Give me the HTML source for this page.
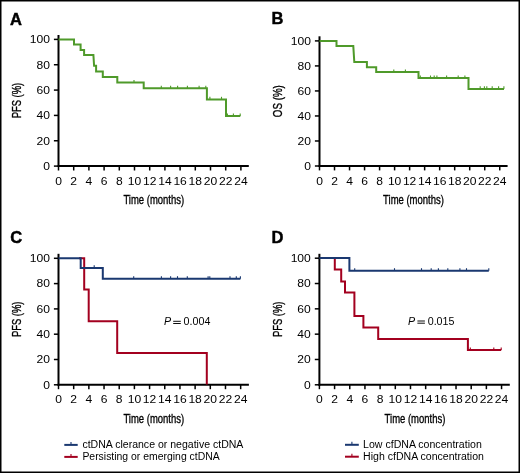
<!DOCTYPE html>
<html><head><meta charset="utf-8"><style>
html,body{margin:0;padding:0;background:#fff;}
svg{display:block;will-change:transform;}
text{font-family:"Liberation Sans", sans-serif;fill:#000;}
.tl{font-size:11px;}
.al{font-size:13px;stroke:#000;stroke-width:0.35px;}
.pl{font-size:16.5px;font-weight:bold;stroke:#000;stroke-width:0.45px;}
.pv{font-size:10.7px;}
.lg{font-size:10.0px;}
</style></head><body>
<svg width="520" height="473" viewBox="0 0 520 473">
<rect x="0.75" y="0.75" width="518.5" height="471.5" fill="#fff" stroke="#000" stroke-width="1.5"/>
<text x="10.0" y="24.6" class="pl">A</text>
<text x="271.5" y="24.3" class="pl">B</text>
<text x="10.2" y="243.3" class="pl">C</text>
<text x="271.5" y="243.2" class="pl">D</text>
<line x1="58.5" y1="35" x2="58.5" y2="167" stroke="#000" stroke-width="2.0"/>
<line x1="57.6" y1="166.1" x2="248.8" y2="166.1" stroke="#000" stroke-width="2.0"/>
<line x1="53.9" y1="166.1" x2="58.5" y2="166.1" stroke="#000" stroke-width="1.5"/>
<text transform="translate(49.9 169.95) scale(1.1 1)" text-anchor="end" class="tl">0</text>
<line x1="53.9" y1="140.76" x2="58.5" y2="140.76" stroke="#000" stroke-width="1.5"/>
<text transform="translate(49.9 144.61) scale(1.1 1)" text-anchor="end" class="tl">20</text>
<line x1="53.9" y1="115.42" x2="58.5" y2="115.42" stroke="#000" stroke-width="1.5"/>
<text transform="translate(49.9 119.27) scale(1.1 1)" text-anchor="end" class="tl">40</text>
<line x1="53.9" y1="90.08" x2="58.5" y2="90.08" stroke="#000" stroke-width="1.5"/>
<text transform="translate(49.9 93.93) scale(1.1 1)" text-anchor="end" class="tl">60</text>
<line x1="53.9" y1="64.74" x2="58.5" y2="64.74" stroke="#000" stroke-width="1.5"/>
<text transform="translate(49.9 68.59) scale(1.1 1)" text-anchor="end" class="tl">80</text>
<line x1="53.9" y1="39.4" x2="58.5" y2="39.4" stroke="#000" stroke-width="1.5"/>
<text transform="translate(49.9 43.25) scale(1.1 1)" text-anchor="end" class="tl">100</text>
<line x1="58.5" y1="166.1" x2="58.5" y2="170.5" stroke="#000" stroke-width="1.5"/>
<text transform="translate(58.5 184.6) scale(1.1 1)" text-anchor="middle" class="tl">0</text>
<line x1="73.7" y1="166.1" x2="73.7" y2="170.5" stroke="#000" stroke-width="1.5"/>
<text transform="translate(73.7 184.6) scale(1.1 1)" text-anchor="middle" class="tl">2</text>
<line x1="88.9" y1="166.1" x2="88.9" y2="170.5" stroke="#000" stroke-width="1.5"/>
<text transform="translate(88.9 184.6) scale(1.1 1)" text-anchor="middle" class="tl">4</text>
<line x1="104.1" y1="166.1" x2="104.1" y2="170.5" stroke="#000" stroke-width="1.5"/>
<text transform="translate(104.1 184.6) scale(1.1 1)" text-anchor="middle" class="tl">6</text>
<line x1="119.3" y1="166.1" x2="119.3" y2="170.5" stroke="#000" stroke-width="1.5"/>
<text transform="translate(119.3 184.6) scale(1.1 1)" text-anchor="middle" class="tl">8</text>
<line x1="134.5" y1="166.1" x2="134.5" y2="170.5" stroke="#000" stroke-width="1.5"/>
<text transform="translate(134.5 184.6) scale(1.1 1)" text-anchor="middle" class="tl">10</text>
<line x1="149.7" y1="166.1" x2="149.7" y2="170.5" stroke="#000" stroke-width="1.5"/>
<text transform="translate(149.7 184.6) scale(1.1 1)" text-anchor="middle" class="tl">12</text>
<line x1="164.9" y1="166.1" x2="164.9" y2="170.5" stroke="#000" stroke-width="1.5"/>
<text transform="translate(164.9 184.6) scale(1.1 1)" text-anchor="middle" class="tl">14</text>
<line x1="180.1" y1="166.1" x2="180.1" y2="170.5" stroke="#000" stroke-width="1.5"/>
<text transform="translate(180.1 184.6) scale(1.1 1)" text-anchor="middle" class="tl">16</text>
<line x1="195.3" y1="166.1" x2="195.3" y2="170.5" stroke="#000" stroke-width="1.5"/>
<text transform="translate(195.3 184.6) scale(1.1 1)" text-anchor="middle" class="tl">18</text>
<line x1="210.5" y1="166.1" x2="210.5" y2="170.5" stroke="#000" stroke-width="1.5"/>
<text transform="translate(210.5 184.6) scale(1.1 1)" text-anchor="middle" class="tl">20</text>
<line x1="225.7" y1="166.1" x2="225.7" y2="170.5" stroke="#000" stroke-width="1.5"/>
<text transform="translate(225.7 184.6) scale(1.1 1)" text-anchor="middle" class="tl">22</text>
<line x1="240.9" y1="166.1" x2="240.9" y2="170.5" stroke="#000" stroke-width="1.5"/>
<text transform="translate(240.9 184.6) scale(1.1 1)" text-anchor="middle" class="tl">24</text>
<text x="153.8" y="203.9" text-anchor="middle" class="al" textLength="60.8" lengthAdjust="spacingAndGlyphs">Time (months)</text>
<text transform="translate(21.3 100.55) rotate(-90)" x="0" y="0" text-anchor="middle" class="al" textLength="35.5" lengthAdjust="spacingAndGlyphs">PFS (%)</text>
<path d="M58.5 39.5 H74.0 V44.5 H80.6 V50.0 H84.1 V55.0 H93.4 L94.1 65.7 H96.1 V71.6 H102.8 V76.9 H117.3 V82.5 H143.7 V88.3 H206.9 V99.4 H226.0 V116.0 H240.3" fill="none" stroke="#4f9a2a" stroke-width="2.0" stroke-linejoin="miter"/>
<line x1="134" y1="82.5" x2="134" y2="79.9" stroke="#4f9a2a" stroke-width="1.1"/>
<line x1="161.3" y1="88.3" x2="161.3" y2="85.7" stroke="#4f9a2a" stroke-width="1.1"/>
<line x1="170.6" y1="88.3" x2="170.6" y2="85.7" stroke="#4f9a2a" stroke-width="1.1"/>
<line x1="177.6" y1="88.3" x2="177.6" y2="85.7" stroke="#4f9a2a" stroke-width="1.1"/>
<line x1="187.4" y1="88.3" x2="187.4" y2="85.7" stroke="#4f9a2a" stroke-width="1.1"/>
<line x1="199.1" y1="88.3" x2="199.1" y2="85.7" stroke="#4f9a2a" stroke-width="1.1"/>
<line x1="205.8" y1="88.3" x2="205.8" y2="85.7" stroke="#4f9a2a" stroke-width="1.1"/>
<line x1="209.9" y1="99.4" x2="209.9" y2="96.8" stroke="#4f9a2a" stroke-width="1.1"/>
<line x1="221.5" y1="99.4" x2="221.5" y2="96.8" stroke="#4f9a2a" stroke-width="1.1"/>
<line x1="227.4" y1="116" x2="227.4" y2="113.4" stroke="#4f9a2a" stroke-width="1.1"/>
<line x1="233.4" y1="116" x2="233.4" y2="113.4" stroke="#4f9a2a" stroke-width="1.1"/>
<line x1="240.2" y1="116" x2="240.2" y2="113.4" stroke="#4f9a2a" stroke-width="1.1"/>
<line x1="319.5" y1="36.3" x2="319.5" y2="166.9" stroke="#000" stroke-width="2.0"/>
<line x1="318.6" y1="166" x2="507.6" y2="166" stroke="#000" stroke-width="2.0"/>
<line x1="314.9" y1="166" x2="319.5" y2="166" stroke="#000" stroke-width="1.5"/>
<text transform="translate(310.9 169.85) scale(1.1 1)" text-anchor="end" class="tl">0</text>
<line x1="314.9" y1="140.98" x2="319.5" y2="140.98" stroke="#000" stroke-width="1.5"/>
<text transform="translate(310.9 144.83) scale(1.1 1)" text-anchor="end" class="tl">20</text>
<line x1="314.9" y1="115.96" x2="319.5" y2="115.96" stroke="#000" stroke-width="1.5"/>
<text transform="translate(310.9 119.81) scale(1.1 1)" text-anchor="end" class="tl">40</text>
<line x1="314.9" y1="90.94" x2="319.5" y2="90.94" stroke="#000" stroke-width="1.5"/>
<text transform="translate(310.9 94.79) scale(1.1 1)" text-anchor="end" class="tl">60</text>
<line x1="314.9" y1="65.92" x2="319.5" y2="65.92" stroke="#000" stroke-width="1.5"/>
<text transform="translate(310.9 69.77) scale(1.1 1)" text-anchor="end" class="tl">80</text>
<line x1="314.9" y1="40.9" x2="319.5" y2="40.9" stroke="#000" stroke-width="1.5"/>
<text transform="translate(310.9 44.75) scale(1.1 1)" text-anchor="end" class="tl">100</text>
<line x1="319.5" y1="166" x2="319.5" y2="170.4" stroke="#000" stroke-width="1.5"/>
<text transform="translate(319.5 184.5) scale(1.1 1)" text-anchor="middle" class="tl">0</text>
<line x1="334.52" y1="166" x2="334.52" y2="170.4" stroke="#000" stroke-width="1.5"/>
<text transform="translate(334.52 184.5) scale(1.1 1)" text-anchor="middle" class="tl">2</text>
<line x1="349.54" y1="166" x2="349.54" y2="170.4" stroke="#000" stroke-width="1.5"/>
<text transform="translate(349.54 184.5) scale(1.1 1)" text-anchor="middle" class="tl">4</text>
<line x1="364.56" y1="166" x2="364.56" y2="170.4" stroke="#000" stroke-width="1.5"/>
<text transform="translate(364.56 184.5) scale(1.1 1)" text-anchor="middle" class="tl">6</text>
<line x1="379.58" y1="166" x2="379.58" y2="170.4" stroke="#000" stroke-width="1.5"/>
<text transform="translate(379.58 184.5) scale(1.1 1)" text-anchor="middle" class="tl">8</text>
<line x1="394.6" y1="166" x2="394.6" y2="170.4" stroke="#000" stroke-width="1.5"/>
<text transform="translate(394.6 184.5) scale(1.1 1)" text-anchor="middle" class="tl">10</text>
<line x1="409.62" y1="166" x2="409.62" y2="170.4" stroke="#000" stroke-width="1.5"/>
<text transform="translate(409.62 184.5) scale(1.1 1)" text-anchor="middle" class="tl">12</text>
<line x1="424.64" y1="166" x2="424.64" y2="170.4" stroke="#000" stroke-width="1.5"/>
<text transform="translate(424.64 184.5) scale(1.1 1)" text-anchor="middle" class="tl">14</text>
<line x1="439.66" y1="166" x2="439.66" y2="170.4" stroke="#000" stroke-width="1.5"/>
<text transform="translate(439.66 184.5) scale(1.1 1)" text-anchor="middle" class="tl">16</text>
<line x1="454.68" y1="166" x2="454.68" y2="170.4" stroke="#000" stroke-width="1.5"/>
<text transform="translate(454.68 184.5) scale(1.1 1)" text-anchor="middle" class="tl">18</text>
<line x1="469.7" y1="166" x2="469.7" y2="170.4" stroke="#000" stroke-width="1.5"/>
<text transform="translate(469.7 184.5) scale(1.1 1)" text-anchor="middle" class="tl">20</text>
<line x1="484.72" y1="166" x2="484.72" y2="170.4" stroke="#000" stroke-width="1.5"/>
<text transform="translate(484.72 184.5) scale(1.1 1)" text-anchor="middle" class="tl">22</text>
<line x1="499.74" y1="166" x2="499.74" y2="170.4" stroke="#000" stroke-width="1.5"/>
<text transform="translate(499.74 184.5) scale(1.1 1)" text-anchor="middle" class="tl">24</text>
<text x="413.5" y="203.8" text-anchor="middle" class="al" textLength="60.8" lengthAdjust="spacingAndGlyphs">Time (months)</text>
<text transform="translate(282.3 101.15) rotate(-90)" x="0" y="0" text-anchor="middle" class="al" textLength="32.0" lengthAdjust="spacingAndGlyphs">OS (%)</text>
<path d="M319.5 41.0 H336.5 V46.1 H353.3 L354.3 62.0 H366.9 V67.3 H376.2 V72.1 H418.5 V78.1 H468.5 V88.9 H504.0" fill="none" stroke="#4f9a2a" stroke-width="2.0" stroke-linejoin="miter"/>
<line x1="393.8" y1="72.1" x2="393.8" y2="69.5" stroke="#4f9a2a" stroke-width="1.1"/>
<line x1="405.4" y1="72.1" x2="405.4" y2="69.5" stroke="#4f9a2a" stroke-width="1.1"/>
<line x1="420.3" y1="78.1" x2="420.3" y2="75.5" stroke="#4f9a2a" stroke-width="1.1"/>
<line x1="430.5" y1="78.1" x2="430.5" y2="75.5" stroke="#4f9a2a" stroke-width="1.1"/>
<line x1="434.2" y1="78.1" x2="434.2" y2="75.5" stroke="#4f9a2a" stroke-width="1.1"/>
<line x1="436.9" y1="78.1" x2="436.9" y2="75.5" stroke="#4f9a2a" stroke-width="1.1"/>
<line x1="446.6" y1="78.1" x2="446.6" y2="75.5" stroke="#4f9a2a" stroke-width="1.1"/>
<line x1="458.2" y1="78.1" x2="458.2" y2="75.5" stroke="#4f9a2a" stroke-width="1.1"/>
<line x1="464.9" y1="78.1" x2="464.9" y2="75.5" stroke="#4f9a2a" stroke-width="1.1"/>
<line x1="480.2" y1="88.9" x2="480.2" y2="86.3" stroke="#4f9a2a" stroke-width="1.1"/>
<line x1="484.4" y1="88.9" x2="484.4" y2="86.3" stroke="#4f9a2a" stroke-width="1.1"/>
<line x1="486.8" y1="88.9" x2="486.8" y2="86.3" stroke="#4f9a2a" stroke-width="1.1"/>
<line x1="492.2" y1="88.9" x2="492.2" y2="86.3" stroke="#4f9a2a" stroke-width="1.1"/>
<line x1="498.6" y1="88.9" x2="498.6" y2="86.3" stroke="#4f9a2a" stroke-width="1.1"/>
<line x1="503.9" y1="88.9" x2="503.9" y2="86.3" stroke="#4f9a2a" stroke-width="1.1"/>
<line x1="58.5" y1="253.8" x2="58.5" y2="385.7" stroke="#000" stroke-width="2.0"/>
<line x1="57.6" y1="384.8" x2="248.9" y2="384.8" stroke="#000" stroke-width="2.0"/>
<line x1="53.9" y1="384.8" x2="58.5" y2="384.8" stroke="#000" stroke-width="1.5"/>
<text transform="translate(49.9 388.65) scale(1.1 1)" text-anchor="end" class="tl">0</text>
<line x1="53.9" y1="359.5" x2="58.5" y2="359.5" stroke="#000" stroke-width="1.5"/>
<text transform="translate(49.9 363.35) scale(1.1 1)" text-anchor="end" class="tl">20</text>
<line x1="53.9" y1="334.2" x2="58.5" y2="334.2" stroke="#000" stroke-width="1.5"/>
<text transform="translate(49.9 338.05) scale(1.1 1)" text-anchor="end" class="tl">40</text>
<line x1="53.9" y1="308.9" x2="58.5" y2="308.9" stroke="#000" stroke-width="1.5"/>
<text transform="translate(49.9 312.75) scale(1.1 1)" text-anchor="end" class="tl">60</text>
<line x1="53.9" y1="283.6" x2="58.5" y2="283.6" stroke="#000" stroke-width="1.5"/>
<text transform="translate(49.9 287.45) scale(1.1 1)" text-anchor="end" class="tl">80</text>
<line x1="53.9" y1="258.3" x2="58.5" y2="258.3" stroke="#000" stroke-width="1.5"/>
<text transform="translate(49.9 262.15) scale(1.1 1)" text-anchor="end" class="tl">100</text>
<line x1="58.5" y1="384.8" x2="58.5" y2="389.2" stroke="#000" stroke-width="1.5"/>
<text transform="translate(58.5 403.3) scale(1.1 1)" text-anchor="middle" class="tl">0</text>
<line x1="73.68" y1="384.8" x2="73.68" y2="389.2" stroke="#000" stroke-width="1.5"/>
<text transform="translate(73.68 403.3) scale(1.1 1)" text-anchor="middle" class="tl">2</text>
<line x1="88.86" y1="384.8" x2="88.86" y2="389.2" stroke="#000" stroke-width="1.5"/>
<text transform="translate(88.86 403.3) scale(1.1 1)" text-anchor="middle" class="tl">4</text>
<line x1="104.04" y1="384.8" x2="104.04" y2="389.2" stroke="#000" stroke-width="1.5"/>
<text transform="translate(104.04 403.3) scale(1.1 1)" text-anchor="middle" class="tl">6</text>
<line x1="119.22" y1="384.8" x2="119.22" y2="389.2" stroke="#000" stroke-width="1.5"/>
<text transform="translate(119.22 403.3) scale(1.1 1)" text-anchor="middle" class="tl">8</text>
<line x1="134.4" y1="384.8" x2="134.4" y2="389.2" stroke="#000" stroke-width="1.5"/>
<text transform="translate(134.4 403.3) scale(1.1 1)" text-anchor="middle" class="tl">10</text>
<line x1="149.58" y1="384.8" x2="149.58" y2="389.2" stroke="#000" stroke-width="1.5"/>
<text transform="translate(149.58 403.3) scale(1.1 1)" text-anchor="middle" class="tl">12</text>
<line x1="164.76" y1="384.8" x2="164.76" y2="389.2" stroke="#000" stroke-width="1.5"/>
<text transform="translate(164.76 403.3) scale(1.1 1)" text-anchor="middle" class="tl">14</text>
<line x1="179.94" y1="384.8" x2="179.94" y2="389.2" stroke="#000" stroke-width="1.5"/>
<text transform="translate(179.94 403.3) scale(1.1 1)" text-anchor="middle" class="tl">16</text>
<line x1="195.12" y1="384.8" x2="195.12" y2="389.2" stroke="#000" stroke-width="1.5"/>
<text transform="translate(195.12 403.3) scale(1.1 1)" text-anchor="middle" class="tl">18</text>
<line x1="210.3" y1="384.8" x2="210.3" y2="389.2" stroke="#000" stroke-width="1.5"/>
<text transform="translate(210.3 403.3) scale(1.1 1)" text-anchor="middle" class="tl">20</text>
<line x1="225.48" y1="384.8" x2="225.48" y2="389.2" stroke="#000" stroke-width="1.5"/>
<text transform="translate(225.48 403.3) scale(1.1 1)" text-anchor="middle" class="tl">22</text>
<line x1="240.66" y1="384.8" x2="240.66" y2="389.2" stroke="#000" stroke-width="1.5"/>
<text transform="translate(240.66 403.3) scale(1.1 1)" text-anchor="middle" class="tl">24</text>
<text x="153.8" y="422.6" text-anchor="middle" class="al" textLength="60.8" lengthAdjust="spacingAndGlyphs">Time (months)</text>
<text transform="translate(21.3 319.3) rotate(-90)" x="0" y="0" text-anchor="middle" class="al" textLength="35.5" lengthAdjust="spacingAndGlyphs">PFS (%)</text>
<path d="M79.0 258.2 H84.2 V289.6 H88.7 V321.3 H117.2 V353.0 H206.8 V384.6" fill="none" stroke="#a3001f" stroke-width="2.0" stroke-linejoin="miter"/>
<path d="M58.5 258.2 H80.7 V267.9 H102.8 V278.8 H240.4" fill="none" stroke="#1a3870" stroke-width="2.0" stroke-linejoin="miter"/>
<line x1="94.2" y1="267.9" x2="94.2" y2="265.3" stroke="#1a3870" stroke-width="1.1"/>
<line x1="133.7" y1="278.8" x2="133.7" y2="276.2" stroke="#1a3870" stroke-width="1.1"/>
<line x1="161.4" y1="278.8" x2="161.4" y2="276.2" stroke="#1a3870" stroke-width="1.1"/>
<line x1="170.6" y1="278.8" x2="170.6" y2="276.2" stroke="#1a3870" stroke-width="1.1"/>
<line x1="177.5" y1="278.8" x2="177.5" y2="276.2" stroke="#1a3870" stroke-width="1.1"/>
<line x1="187.3" y1="278.8" x2="187.3" y2="276.2" stroke="#1a3870" stroke-width="1.1"/>
<line x1="208.1" y1="278.8" x2="208.1" y2="276.2" stroke="#1a3870" stroke-width="1.1"/>
<line x1="209.8" y1="278.8" x2="209.8" y2="276.2" stroke="#1a3870" stroke-width="1.1"/>
<line x1="230" y1="278.8" x2="230" y2="276.2" stroke="#1a3870" stroke-width="1.1"/>
<line x1="236.3" y1="278.8" x2="236.3" y2="276.2" stroke="#1a3870" stroke-width="1.1"/>
<line x1="240.4" y1="278.8" x2="240.4" y2="276.2" stroke="#1a3870" stroke-width="1.1"/>
<text x="164.0" y="325.2" class="pv"><tspan font-style="italic">P</tspan><tspan x="183.6">0.004</tspan></text>
<path d="M173.2 321.3 H180.8 M173.2 323.5 H180.8" stroke="#000" stroke-width="0.95"/>
<line x1="319.4" y1="253.8" x2="319.4" y2="385.7" stroke="#000" stroke-width="2.0"/>
<line x1="318.5" y1="384.8" x2="509.8" y2="384.8" stroke="#000" stroke-width="2.0"/>
<line x1="314.8" y1="384.8" x2="319.4" y2="384.8" stroke="#000" stroke-width="1.5"/>
<text transform="translate(310.8 388.65) scale(1.1 1)" text-anchor="end" class="tl">0</text>
<line x1="314.8" y1="359.48" x2="319.4" y2="359.48" stroke="#000" stroke-width="1.5"/>
<text transform="translate(310.8 363.33) scale(1.1 1)" text-anchor="end" class="tl">20</text>
<line x1="314.8" y1="334.16" x2="319.4" y2="334.16" stroke="#000" stroke-width="1.5"/>
<text transform="translate(310.8 338.01) scale(1.1 1)" text-anchor="end" class="tl">40</text>
<line x1="314.8" y1="308.84" x2="319.4" y2="308.84" stroke="#000" stroke-width="1.5"/>
<text transform="translate(310.8 312.69) scale(1.1 1)" text-anchor="end" class="tl">60</text>
<line x1="314.8" y1="283.52" x2="319.4" y2="283.52" stroke="#000" stroke-width="1.5"/>
<text transform="translate(310.8 287.37) scale(1.1 1)" text-anchor="end" class="tl">80</text>
<line x1="314.8" y1="258.2" x2="319.4" y2="258.2" stroke="#000" stroke-width="1.5"/>
<text transform="translate(310.8 262.05) scale(1.1 1)" text-anchor="end" class="tl">100</text>
<line x1="319.4" y1="384.8" x2="319.4" y2="389.2" stroke="#000" stroke-width="1.5"/>
<text transform="translate(319.4 403.3) scale(1.1 1)" text-anchor="middle" class="tl">0</text>
<line x1="334.58" y1="384.8" x2="334.58" y2="389.2" stroke="#000" stroke-width="1.5"/>
<text transform="translate(334.58 403.3) scale(1.1 1)" text-anchor="middle" class="tl">2</text>
<line x1="349.76" y1="384.8" x2="349.76" y2="389.2" stroke="#000" stroke-width="1.5"/>
<text transform="translate(349.76 403.3) scale(1.1 1)" text-anchor="middle" class="tl">4</text>
<line x1="364.94" y1="384.8" x2="364.94" y2="389.2" stroke="#000" stroke-width="1.5"/>
<text transform="translate(364.94 403.3) scale(1.1 1)" text-anchor="middle" class="tl">6</text>
<line x1="380.12" y1="384.8" x2="380.12" y2="389.2" stroke="#000" stroke-width="1.5"/>
<text transform="translate(380.12 403.3) scale(1.1 1)" text-anchor="middle" class="tl">8</text>
<line x1="395.3" y1="384.8" x2="395.3" y2="389.2" stroke="#000" stroke-width="1.5"/>
<text transform="translate(395.3 403.3) scale(1.1 1)" text-anchor="middle" class="tl">10</text>
<line x1="410.48" y1="384.8" x2="410.48" y2="389.2" stroke="#000" stroke-width="1.5"/>
<text transform="translate(410.48 403.3) scale(1.1 1)" text-anchor="middle" class="tl">12</text>
<line x1="425.66" y1="384.8" x2="425.66" y2="389.2" stroke="#000" stroke-width="1.5"/>
<text transform="translate(425.66 403.3) scale(1.1 1)" text-anchor="middle" class="tl">14</text>
<line x1="440.84" y1="384.8" x2="440.84" y2="389.2" stroke="#000" stroke-width="1.5"/>
<text transform="translate(440.84 403.3) scale(1.1 1)" text-anchor="middle" class="tl">16</text>
<line x1="456.02" y1="384.8" x2="456.02" y2="389.2" stroke="#000" stroke-width="1.5"/>
<text transform="translate(456.02 403.3) scale(1.1 1)" text-anchor="middle" class="tl">18</text>
<line x1="471.2" y1="384.8" x2="471.2" y2="389.2" stroke="#000" stroke-width="1.5"/>
<text transform="translate(471.2 403.3) scale(1.1 1)" text-anchor="middle" class="tl">20</text>
<line x1="486.38" y1="384.8" x2="486.38" y2="389.2" stroke="#000" stroke-width="1.5"/>
<text transform="translate(486.38 403.3) scale(1.1 1)" text-anchor="middle" class="tl">22</text>
<line x1="501.56" y1="384.8" x2="501.56" y2="389.2" stroke="#000" stroke-width="1.5"/>
<text transform="translate(501.56 403.3) scale(1.1 1)" text-anchor="middle" class="tl">24</text>
<text x="415" y="422.6" text-anchor="middle" class="al" textLength="60.8" lengthAdjust="spacingAndGlyphs">Time (months)</text>
<text transform="translate(282.2 319.3) rotate(-90)" x="0" y="0" text-anchor="middle" class="al" textLength="35.5" lengthAdjust="spacingAndGlyphs">PFS (%)</text>
<path d="M333.0 258.1 H334.8 V269.6 H341.2 V281.5 H345.0 V292.6 H354.4 V316.0 H363.4 V327.4 H378.2 V338.9 H467.9 V350.0 H501.2" fill="none" stroke="#a3001f" stroke-width="2.0" stroke-linejoin="miter"/>
<line x1="470.3" y1="350" x2="470.3" y2="347.4" stroke="#a3001f" stroke-width="1.1"/>
<line x1="493.8" y1="350" x2="493.8" y2="347.4" stroke="#a3001f" stroke-width="1.1"/>
<line x1="501.2" y1="350" x2="501.2" y2="347.4" stroke="#a3001f" stroke-width="1.1"/>
<path d="M319.4 258.1 H349.4 V270.8 H488.8" fill="none" stroke="#1a3870" stroke-width="2.0" stroke-linejoin="miter"/>
<line x1="354.7" y1="270.8" x2="354.7" y2="268.2" stroke="#1a3870" stroke-width="1.1"/>
<line x1="394.5" y1="270.8" x2="394.5" y2="268.2" stroke="#1a3870" stroke-width="1.1"/>
<line x1="421.5" y1="270.8" x2="421.5" y2="268.2" stroke="#1a3870" stroke-width="1.1"/>
<line x1="431.2" y1="270.8" x2="431.2" y2="268.2" stroke="#1a3870" stroke-width="1.1"/>
<line x1="438.4" y1="270.8" x2="438.4" y2="268.2" stroke="#1a3870" stroke-width="1.1"/>
<line x1="447.8" y1="270.8" x2="447.8" y2="268.2" stroke="#1a3870" stroke-width="1.1"/>
<line x1="459.9" y1="270.8" x2="459.9" y2="268.2" stroke="#1a3870" stroke-width="1.1"/>
<line x1="466.5" y1="270.8" x2="466.5" y2="268.2" stroke="#1a3870" stroke-width="1.1"/>
<line x1="488.8" y1="270.8" x2="488.8" y2="268.2" stroke="#1a3870" stroke-width="1.1"/>
<text x="408.1" y="324.9" class="pv"><tspan font-style="italic">P</tspan><tspan x="427.7">0.015</tspan></text>
<path d="M417.4 321.0 H424.9 M417.4 323.2 H424.9" stroke="#000" stroke-width="0.95"/>
<line x1="64.3" y1="444.9" x2="77.7" y2="444.9" stroke="#1a3870" stroke-width="2.0"/><line x1="71" y1="444.9" x2="71" y2="441.9" stroke="#1a3870" stroke-width="1.1"/><text x="82.4" y="448.1" class="lg" textLength="161.0" lengthAdjust="spacingAndGlyphs">ctDNA clerance or negative ctDNA</text>
<line x1="64.3" y1="456.9" x2="77.7" y2="456.9" stroke="#a3001f" stroke-width="2.0"/><line x1="71" y1="456.9" x2="71" y2="453.9" stroke="#a3001f" stroke-width="1.1"/><text x="82.4" y="460.1" class="lg" textLength="137.3" lengthAdjust="spacingAndGlyphs">Persisting or emerging ctDNA</text>
<line x1="345" y1="444.8" x2="358.8" y2="444.8" stroke="#1a3870" stroke-width="2.0"/><line x1="351.9" y1="444.8" x2="351.9" y2="441.8" stroke="#1a3870" stroke-width="1.1"/><text x="363.1" y="447.9" class="lg" textLength="118.7" lengthAdjust="spacingAndGlyphs">Low cfDNA concentration</text>
<line x1="345" y1="456.7" x2="358.8" y2="456.7" stroke="#a3001f" stroke-width="2.0"/><line x1="351.9" y1="456.7" x2="351.9" y2="453.7" stroke="#a3001f" stroke-width="1.1"/><text x="363.1" y="460" class="lg" textLength="120.8" lengthAdjust="spacingAndGlyphs">High cfDNA concentration</text>
</svg>
</body></html>
